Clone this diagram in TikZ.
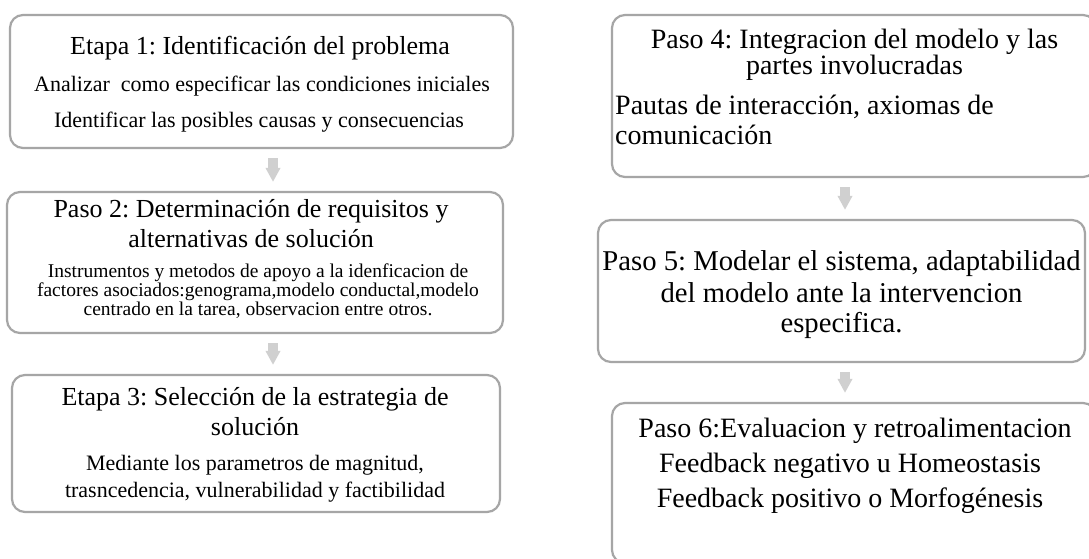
\documentclass[tikz,border=0pt]{standalone}
\usepackage{fontspec}
\setmainfont{Liberation Serif}
\frenchspacing
\usetikzlibrary{arrows.meta}
\definecolor{boxgray}{RGB}{166,166,166}
\definecolor{arrowgray}{RGB}{208,208,208}
\tikzset{
  stepbox/.style={draw=boxgray, line width=2.2pt, rounded corners=13pt, fill=white, inner sep=0pt},
  txt/.style={anchor=base, inner sep=0pt, text=black},
  ttlL/.style={txt, font=\fontsize{26}{30}\selectfont},
  subL/.style={txt, font=\fontsize{22}{26}\selectfont},
  smallL/.style={txt, font=\fontsize{19.5}{22}\selectfont},
  ttlR/.style={txt, font=\fontsize{28}{32}\selectfont},
  bigR/.style={txt, font=\fontsize{28.7}{33}\selectfont},
  blockarrow/.style={draw=arrowgray, line width=9.3pt, line cap=butt,
    -{Triangle[width=14pt,length=14pt]}, shorten <=9pt, shorten >=9pt},
}
\begin{document}
\begin{tikzpicture}[x=1pt,y=-1pt]
\clip (0,0) rectangle (1089,559);
\fill[white] (0,0) rectangle (1089,559);
% boxes
\node[stepbox, minimum width=503pt, minimum height=133pt] (b1) at (261.5,81.5) {};
\node[stepbox, minimum width=496pt, minimum height=141pt] (b2) at (255,262.5) {};
\node[stepbox, minimum width=488pt, minimum height=137pt] (b3) at (256,443.5) {};
\node[stepbox, minimum width=484pt, minimum height=162pt] (b4) at (854,96) {};
\node[stepbox, minimum width=487pt, minimum height=142pt] (b5) at (841.5,291) {};
\node[stepbox, minimum width=484pt, minimum height=160pt] (b6) at (854,483) {};
% arrows
\coordinate (axL) at (273,0);
\coordinate (axR) at (845,0);
\draw[blockarrow] (b1.south -| axL) -- (b2.north -| axL);
\draw[blockarrow] (b2.south -| axL) -- (b3.north -| axL);
\draw[blockarrow] (b4.south -| axR) -- (b5.north -| axR);
\draw[blockarrow] (b5.south -| axR) -- (b6.north -| axR);
% box 1
\node[ttlL] (t1a) at (260,55) {Etapa 1: Identificación del problema};
\node[subL] (t1b) at (262,92) {Analizar\ \ como especificar las condiciones iniciales};
\node[subL] (t1c) at (259,128) {Identificar las posibles causas y consecuencias};
% box 2
\node[ttlL] (t2a) at (251,217) {Paso 2: Determinación de requisitos y};
\node[ttlL] (t2b) at (251,247) {alternativas de solución};
\node[smallL] (t2c) at (258,277) {Instrumentos y metodos de apoyo a la idenficacion de};
\node[smallL] (t2d) at (258,296) {factores asociados:genograma,modelo conductal,modelo};
\node[smallL] (t2e) at (258,315) {centrado en la tarea, observacion entre otros.};
% box 3
\node[ttlL] (t3a) at (255,405) {Etapa 3: Selección de la estrategia de};
\node[ttlL] (t3b) at (255,435) {solución};
\node[subL] (t3c) at (255,470) {Mediante los parametros de magnitud,};
\node[subL] (t3d) at (255,497) {trasncedencia, vulnerabilidad y factibilidad};
% box 4
\node[ttlR] (t4a) at (854.5,49) {Paso 4: Integracion del modelo y las};
\node[ttlR] (t4b) at (854.5,75) {partes involucradas};
\node[ttlR, anchor=base west] (t4c) at (615,115) {Pautas de interacción, axiomas de};
\node[ttlR, anchor=base west] (t4d) at (615,145) {comunicación};
% box 5
\node[bigR] (t5a) at (841.5,270) {Paso 5: Modelar el sistema, adaptabilidad};
\node[bigR] (t5b) at (841.5,302) {del modelo ante la intervencion};
\node[bigR] (t5c) at (841.5,332) {especifica.};
% box 6
\node[ttlR] (t6a) at (855,437) {Paso 6:Evaluacion y retroalimentacion};
\node[ttlR] (t6b) at (850,472) {Feedback negativo u Homeostasis};
\node[ttlR] (t6c) at (850,507) {Feedback positivo o Morfogénesis};
\end{tikzpicture}
\end{document}
